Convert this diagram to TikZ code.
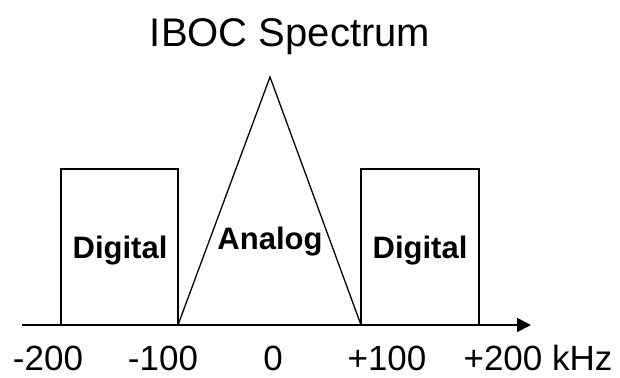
\documentclass[tikz,border=0pt]{standalone}
\usepackage{fontspec}
\setmainfont{Liberation Sans}
\usetikzlibrary{arrows.meta}
\begin{document}
\begin{tikzpicture}[x=1pt, y=1pt,
  band/.style={line width=1.6pt},
  lbl/.style={font=\fontsize{31}{31}\selectfont\bfseries, anchor=base},
  freq/.style={font=\fontsize{35}{35}\selectfont, anchor=base}]
\useasboundingbox (0,0) rectangle (620,377);
\node[font=\fontsize{40}{40}\selectfont, anchor=base] (title) at (290,330) {IBOC Spectrum};
% eixo
\coordinate (o) at (22,52);
\coordinate (e) at (531,52);
\draw[line width=1.8pt, -{Triangle[length=14pt,width=14pt]}] (o) -- (e);
% Digital (LSB)
\draw[band] (61,52) -- (61,208) -- (178,208) -- (178,52);
\node[lbl] (dl) at (120,118) {Digital};
% Analog
\draw[line width=1.3pt] (178,52) -- (270,300) -- (361,52);
\node[lbl] (an) at (270,127) {Analog};
% Digital (USB)
\draw[band] (361,52) -- (361,208) -- (479,208) -- (479,52);
\node[lbl] (du) at (420,118) {Digital};
% frequencias
\node[freq] (f1) at (48,7) {-200};
\node[freq] (f2) at (163,7) {-100};
\node[freq] (f3) at (273,7) {0};
\node[freq] (f4) at (387,7) {+100};
\node[freq] (f5) at (538,7) {+200 kHz};
\end{tikzpicture}
\end{document}
